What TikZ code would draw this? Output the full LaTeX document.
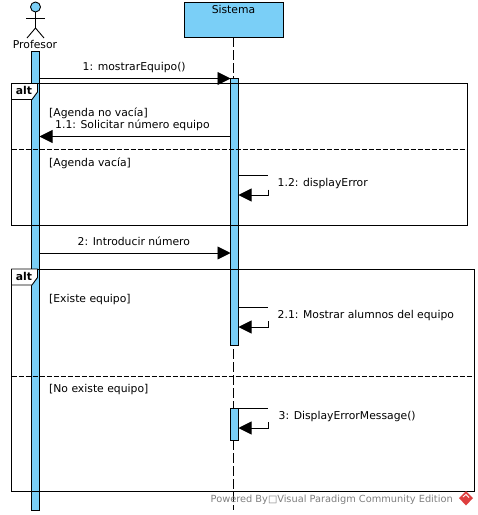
\documentclass[tikz,border=0pt]{standalone}
\usepackage{fontspec}
\setmainfont{DejaVu Sans}
\usepackage{xcolor}
\usetikzlibrary{arrows.meta}
\definecolor{barblue}{RGB}{122,207,247}
\definecolor{vpgrey}{RGB}{128,128,128}
\definecolor{vpred}{RGB}{222,62,62}

\begin{document}
\begin{tikzpicture}[
    x=1pt, y=-1pt,
    font=\fontsize{10.8pt}{12pt}\selectfont,
    >={Triangle[length=13pt,width=13pt]},
    bar/.style={draw, fill=barblue, line width=0.9pt, minimum width=8pt,
                inner sep=0pt, outer sep=0pt},
    frag/.style={draw, line width=0.9pt, inner sep=0pt, outer sep=0pt},
    tab/.style={draw, fill=white, line width=0.9pt, line join=round},
    lab/.style={inner sep=0pt, anchor=base west},
    sig/.style={->, line width=0.9pt},
    self/.style={line width=0.9pt},
    life/.style={line width=0.9pt, dash pattern=on 10pt off 3pt},
    sep/.style={line width=0.9pt, dash pattern=on 5pt off 2pt},
  ]
  \useasboundingbox (0,0) rectangle (478,515);

  %% ---- lifelines and activations ---------------------------------------
  \node[draw, fill=barblue, line width=0.9pt, minimum width=99pt, minimum height=34.5pt,
        inner sep=0pt, outer sep=0pt] (sistema) at (234,19.75) {};
  \node[inner sep=0pt, anchor=base] (sistemaT) at (233.5,13) {Sistema};
  \coordinate (lifeEnd) at (233.5,510);
  \draw[life] (sistema.south -| lifeEnd) -- (lifeEnd);

  \node[bar, minimum height=459pt] (barP)  at (35.5,280.5) {};
  \node[bar, minimum height=266.5pt] (barS)  at (234.5,211.75) {};
  \node[bar, minimum height=31.5pt] (barS2) at (234.5,424.25) {};

  %% ---- actor -----------------------------------------------------------
  \node[draw, circle, fill=barblue, line width=0.9pt, minimum size=10pt,
        inner sep=0pt, outer sep=0pt] (head) at (35.5,7) {};
  \coordinate (hip) at (35.5,28);
  \coordinate (armL) at (26,18);
  \coordinate (armR) at (45,18);
  \coordinate (legL) at (27,38);
  \coordinate (legR) at (44,38);
  \draw[self] (head) -- (hip);
  \draw[self] (armL) -- (armR);
  \draw[self] (legL) -- (hip) -- (legR);
  \node[inner sep=0pt, anchor=base] (profesor) at (35,48) {Profesor};

  %% ---- message levels --------------------------------------------------
  \coordinate (m1)  at (0,78.5);
  \coordinate (m11) at (0,136.5);
  \coordinate (m2)  at (0,253);
  \coordinate (d1)  at (0,149.5);
  \coordinate (d2)  at (0,376);

  %% ---- first alt -------------------------------------------------------
  \node[frag, minimum width=455.5pt, minimum height=141.5pt] (alta) at (239.25,154.25) {};
  \draw[sep] (alta.west |- d1) -- (alta.east |- d1);
  \draw[tab] (alta.north west) -- (37.5,83.5) -- (37.5,92) -- (32,99.5)
    -- (11.5,99.5) -- cycle;
  \node[inner sep=0pt, anchor=base] (altaT) at (24,94) {\textbf{alt}};
  \node[lab] (g1) at (49,116) {[Agenda no vacía]};
  \node[lab] (g2) at (49,166) {[Agenda vacía]};

  %% ---- second alt ------------------------------------------------------
  \node[frag, minimum width=463pt, minimum height=222pt] (altb) at (243,380) {};
  \draw[sep] (altb.west |- d2) -- (altb.east |- d2);
  \draw[tab] (altb.north west) -- (37.5,269) -- (37.5,277.5) -- (32,285)
    -- (11.5,285) -- cycle;
  \node[inner sep=0pt, anchor=base] (altbT) at (24,280) {\textbf{alt}};
  \node[lab] (g3) at (49,302) {[Existe equipo]};
  \node[lab] (g4) at (49,392) {[No existe equipo]};

  %% ---- messages --------------------------------------------------------
  \draw[sig] (barP.east |- m1) -- (barS.west |- m1);
  \node[lab] (t1) at (82.5,70) {1: mostrarEquipo()};
  \draw[sig] (barS.west |- m11) -- (barP.east |- m11);
  \node[lab] (t11) at (55,128) {1.1: Solicitar número equipo};
  \draw[sig] (barP.east |- m2) -- (barS.west |- m2);
  \node[lab] (t2) at (77.5,245) {2: Introducir número};

  %% ---- self messages ---------------------------------------------------
  \coordinate (s1a) at (268,175);   \coordinate (s1b) at (268.5,189.5);
  \coordinate (s1c) at (268.5,195);
  \coordinate (s2a) at (268,307);   \coordinate (s2b) at (268.5,321);
  \coordinate (s2c) at (268.5,327);
  \coordinate (s3a) at (268,408.5); \coordinate (s3b) at (268.5,422);
  \coordinate (s3c) at (268.5,428);
  \draw[self] (barS.east |- s1a) -- (s1a);
  \draw[sig]  (s1b) -- (s1c) -- (barS.east |- s1c);
  \node[lab] (t12) at (277.5,186) {1.2: displayError};
  \draw[self] (barS.east |- s2a) -- (s2a);
  \draw[sig]  (s2b) -- (s2c) -- (barS.east |- s2c);
  \node[lab] (t21) at (277.5,318) {2.1: Mostrar alumnos del equipo};
  \draw[self] (barS2.east |- s3a) -- (s3a);
  \draw[sig]  (s3b) -- (s3c) -- (barS2.east |- s3c);
  \node[lab] (t3) at (278.5,419) {3: DisplayErrorMessage()};

  %% ---- footer ----------------------------------------------------------
  \node[lab, text=vpgrey, font=\fontsize{9.8pt}{11pt}\selectfont] (vp) at (210.5,502)
    {Powered By□Visual Paradigm Community Edition};
  \fill[vpred] (466,491) -- (473,498) -- (466,505.5) -- (459,498) -- cycle;
  \draw[white, line width=0.8pt] (463,497) -- (466,494.5) -- (469,497.5);
\end{tikzpicture}
\end{document}
